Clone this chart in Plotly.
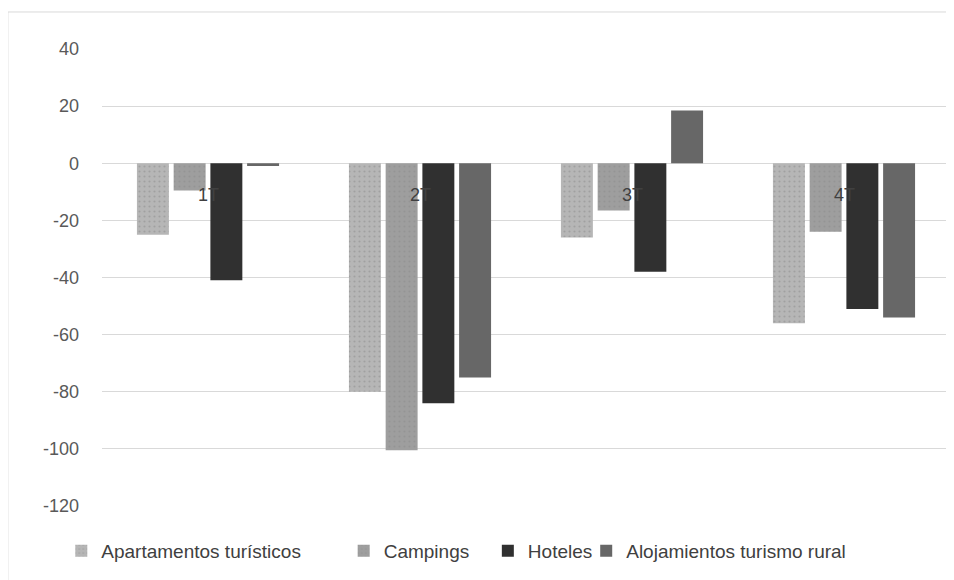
import plotly.graph_objects as go

trimestres = ["1T", "2T", "3T", "4T"]

apartamentos = [-25, -80, -26, -56]
campings = [-9.5, -100.5, -16.5, -24]
hoteles = [-41, -84, -38, -51]
rural = [-1, -75, 18.5, -54]

y_ticks = [40, 20, 0, -20, -40, -60, -80, -100, -120]

series = [
    ("Apartamentos turísticos", apartamentos, "#b6b6b6", "."),
    ("Campings", campings, "#9e9e9e", "."),
    ("Hoteles", hoteles, "#303030", ""),
    ("Alojamientos turismo rural", rural, "#676767", ""),
]

# posicion de cada entrada de la leyenda (fraccion del area de trazado)
legend_x = [-0.048, 0.285, 0.455, 0.571]

fig = go.Figure()

for i, (name, values, color, shape) in enumerate(series):
    legend_id = "legend" if i == 0 else f"legend{i + 1}"
    fig.add_trace(
        go.Bar(
            x=trimestres,
            y=values,
            name=name,
            legend=legend_id,
            marker=dict(
                color=color,
                line=dict(color=color, width=0),
                pattern=dict(shape=shape, fgcolor="#8a8a8a", size=5, solidity=0.15),
            ),
        )
    )
    fig.update_layout({
        legend_id: dict(
            x=legend_x[i], xanchor="left",
            y=-0.0985, yanchor="middle",
            font=dict(size=19, color="#404040"),
            itemwidth=30,
            bgcolor="rgba(0,0,0,0)",
        )
    })

# etiquetas de categoria sobre la linea del cero
for t in trimestres:
    fig.add_annotation(
        x=t, y=0, text=t, showarrow=False,
        yanchor="top", yshift=-20,
        font=dict(size=18, color="#404040"),
    )

# marco del area del grafico (solo arriba e izquierda son visibles)
fig.add_shape(type="line", xref="paper", yref="paper",
              x0=-0.111, x1=1.02, y0=1.081, y1=1.081,
              line=dict(color="#d9d9d9", width=1))
fig.add_shape(type="line", xref="paper", yref="paper",
              x0=-0.111, x1=-0.111, y0=-0.162, y1=1.081,
              line=dict(color="#d9d9d9", width=1))

fig.update_layout(
    width=954,
    height=580,
    margin=dict(l=94, r=12, t=41, b=82),
    paper_bgcolor="white",
    plot_bgcolor="white",
    barmode="group",
    bargap=0.307,
    bargroupgap=0.13,
    font=dict(family="Liberation Sans", color="#595959"),
    showlegend=True,
    xaxis=dict(showticklabels=False, showgrid=False, zeroline=False, showline=False),
    yaxis=dict(
        range=[-120, 40],
        tickvals=y_ticks,
        ticktext=[str(v) for v in y_ticks],
        showgrid=True,
        gridcolor="#d9d9d9",
        gridwidth=1,
        zeroline=True,
        zerolinecolor="#d9d9d9",
        zerolinewidth=1,
        showline=False,
        ticks="",
        ticklabelstandoff=22,
        tickfont=dict(size=18, color="#595959"),
    ),
)

fig.write_html("out.html")
